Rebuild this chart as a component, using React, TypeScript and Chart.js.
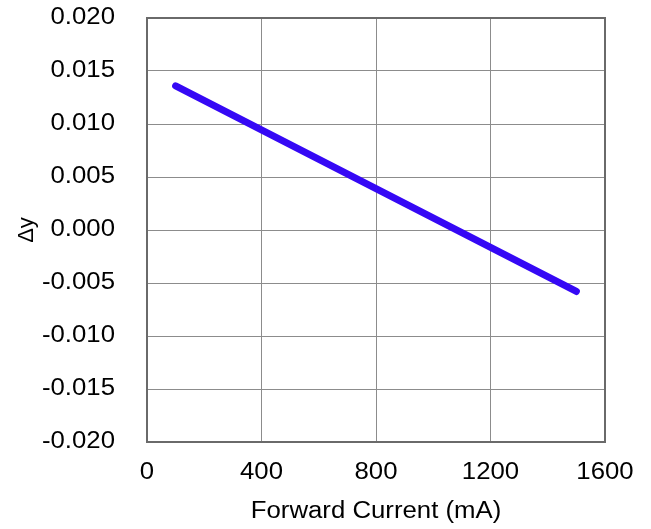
import React, { useEffect, useRef } from "react";
import { Chart, registerables } from "chart.js";

Chart.register(...registerables);

const currentMA = [100, 1500];
const deltaY = [0.0136, -0.0058];
const xTicks = [0, 400, 800, 1200, 1600];
const yTicks = [-0.02, -0.015, -0.01, -0.005, 0, 0.005, 0.01, 0.015, 0.02];
const xTitle = "Forward Current (mA)";
const yTitle = "\u0394y";

const FONT = "'Liberation Sans', Arial, sans-serif";
const FONT_SIZE = 23;
const STRETCH = 1.12;

const borderPlugin = {
  id: "plotBorder",
  beforeDraw(chart: any) {
    const ctx = chart.ctx;
    if (!ctx.__stretched) {
      ctx.__stretched = true;
      const orig = ctx.fillText.bind(ctx);
      ctx.fillText = (text: string, x: number, y: number, maxWidth?: number) => {
        if (text === yTitle) {
          orig(text, x, y, maxWidth);
          return;
        }
        ctx.save();
        ctx.translate(x, y);
        ctx.scale(STRETCH, 1);
        orig(text, 0, 0);
        ctx.restore();
      };
    }
  },
  afterDraw(chart: any) {
    const { ctx, chartArea } = chart;
    ctx.save();
    ctx.strokeStyle = "#6a6a6a";
    ctx.lineWidth = 2;
    ctx.strokeRect(chartArea.left, chartArea.top, chartArea.right - chartArea.left, chartArea.bottom - chartArea.top);
    ctx.restore();
  },
};

export default function App() {
  const ref = useRef<HTMLCanvasElement | null>(null);
  useEffect(() => {
    if (!ref.current) return;
    const chart = new Chart(ref.current, {
      type: "line",
      data: {
        datasets: [
          {
            data: currentMA.map((x, i) => ({ x, y: deltaY[i] })),
            borderColor: "#3508F5",
            borderWidth: 7,
            borderCapStyle: "round",
            pointRadius: 0,
            fill: false,
            tension: 0,
          },
        ],
      },
      options: {
        animation: false,
        responsive: false,
        maintainAspectRatio: false,
        layout: { padding: { top: 18, right: 46, bottom: 0, left: 0 } },
        plugins: { legend: { display: false }, tooltip: { enabled: false } },
        scales: {
          x: {
            type: "linear",
            min: 0,
            max: 1600,
            afterBuildTicks: (s: any) => {
              s.ticks = xTicks.map((v) => ({ value: v }));
            },
            afterFit: (s: any) => {
              s.height = 87;
              s.paddingLeft = 0;
              s.paddingRight = 0;
            },
            grid: { color: "#8c8c8c", lineWidth: 1, drawTicks: false },
            border: { display: false },
            ticks: {
              padding: 17,
              color: "#000",
              font: { family: FONT, size: FONT_SIZE },
              maxRotation: 0,
              autoSkip: false,
              callback: (v: any) => String(v),
            },
            title: {
              display: true,
              text: xTitle,
              color: "#000",
              font: { family: FONT, size: FONT_SIZE },
              padding: { top: 0, bottom: 4 },
            },
          },
          y: {
            type: "linear",
            min: -0.02,
            max: 0.02,
            afterBuildTicks: (s: any) => {
              s.ticks = yTicks.map((v) => ({ value: v }));
            },
            afterFit: (s: any) => {
              s.width = 147;
              s.paddingTop = 0;
              s.paddingBottom = 0;
            },
            grid: { color: "#8c8c8c", lineWidth: 1, drawTicks: false },
            border: { display: false },
            ticks: {
              padding: 32,
              color: "#000",
              font: { family: FONT, size: FONT_SIZE },
              autoSkip: false,
              callback: (v: any) => (Math.abs(v) < 1e-9 ? "0.000" : Number(v).toFixed(3)),
            },
            title: {
              display: true,
              text: yTitle,
              color: "#000",
              font: { family: FONT, size: 22 },
              padding: { top: 14, bottom: 0 },
            },
          },
        },
      },
      plugins: [borderPlugin],
    } as any);
    return () => chart.destroy();
  }, []);
  return (
    <div style={{ position: "fixed", left: 0, top: 0, width: 651, height: 529 }}>
      <canvas ref={ref} width={651} height={529} style={{ width: 651, height: 529 }} />
    </div>
  );
}
